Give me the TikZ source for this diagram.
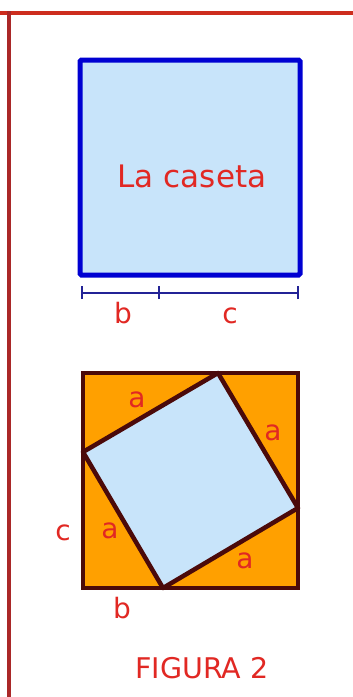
\documentclass[tikz,border=0pt]{standalone}
\usepackage{fontspec}
\setmainfont{DejaVu Sans}
\definecolor{framered}{RGB}{205,45,30}
\definecolor{framedark}{RGB}{170,40,40}
\definecolor{boxblue}{RGB}{0,0,210}
\definecolor{skyfill}{RGB}{200,228,250}
\definecolor{dimblue}{RGB}{35,35,150}
\definecolor{labred}{RGB}{225,40,35}
\definecolor{brownline}{RGB}{75,10,10}
\definecolor{orangefill}{RGB}{255,160,0}
\begin{document}
\begin{tikzpicture}[x=1pt,y=-1pt,
  lbl/.style={text=labred,font=\fontsize{28}{30}\selectfont,inner sep=0pt,anchor=base},
  dimline/.style={draw=dimblue,line width=1.8pt},
  brown/.style={draw=brownline,line width=4.5pt,line join=round}]
\useasboundingbox (0,0) rectangle (353,697);
\fill[white] (0,0) rectangle (353,697);
% frame
\coordinate (fl) at (0,13);
\coordinate (fr) at (353,13);
\coordinate (vt) at (9,11);
\coordinate (vb) at (9,697);
\draw[framered,line width=4.5pt] (fl) -- (fr);
\draw[framedark,line width=4pt] (vt) -- (vb);
% top square
\coordinate (s1) at (80,60);
\coordinate (s2) at (300,275);
\draw[boxblue,line width=5pt,fill=skyfill,rounded corners=1.5pt] (s1) rectangle (s2);
\node[lbl,font=\fontsize{31}{33}\selectfont] (title) at (192,187) {La caseta};
% dimension line
\coordinate (d0) at (82,293);
\coordinate (d1) at (159,293);
\coordinate (d2) at (298,293);
\draw[dimline] (d0) -- (d2);
\draw[dimline] ([yshift=-6pt]d0) -- ([yshift=7pt]d0);
\draw[dimline] ([yshift=-6pt]d1) -- ([yshift=7pt]d1);
\draw[dimline] ([yshift=-6pt]d2) -- ([yshift=7pt]d2);
\node[lbl] (lb1) at (123,323) {b};
\node[lbl] (lc1) at (230,323) {c};
% bottom square
\coordinate (q1) at (83,373);
\coordinate (q2) at (298,588);
\coordinate (pt) at (218,373);
\coordinate (pr) at (298,508);
\coordinate (pb) at (163,588);
\coordinate (pl) at (83,452);
\fill[orangefill] (q1) rectangle (q2);
\filldraw[brown,fill=skyfill] (pt) -- (pr) -- (pb) -- (pl) -- cycle;
\draw[brown,line join=miter] (q1) rectangle (q2);
\node[lbl] (la1) at (137,407) {a};
\node[lbl] (la2) at (273,440) {a};
\node[lbl] (lc2) at (63,540) {c};
\node[lbl] (la3) at (110,538) {a};
\node[lbl] (la4) at (245,568) {a};
\node[lbl] (lb2) at (122,618) {b};
\node[lbl,font=\fontsize{28.5}{30}\selectfont] (fig) at (202,678) {FIGURA 2};
\end{tikzpicture}
\end{document}
